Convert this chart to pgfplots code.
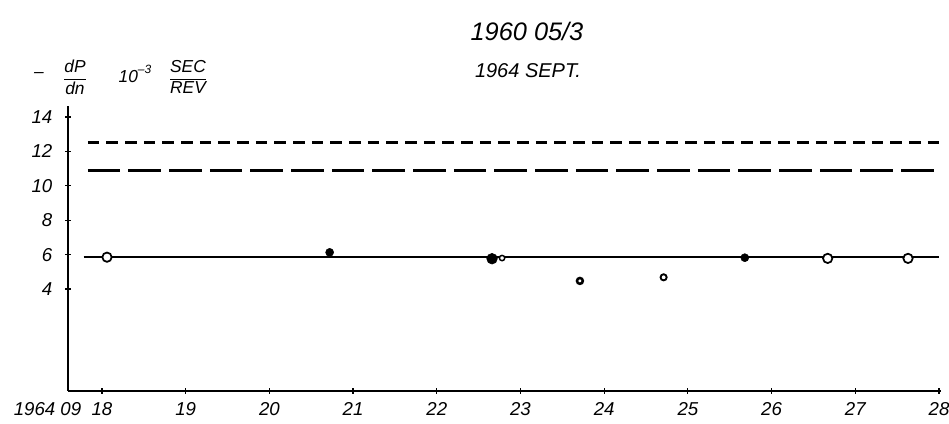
\documentclass[border=0pt]{standalone}
\usepackage{fontspec}
\setmainfont{Liberation Sans}
\usepackage{pgfplots}
\pgfplotsset{compat=1.18}

% pixel of reference -> pt, origin at the axis corner (68,391)
\newcommand{\px}[2]{({(#1-68)*0.75pt},{(391-#2)*0.75pt})}

\begin{document}
\begin{tikzpicture}
\useasboundingbox (-51pt,-24.75pt) rectangle (660.75pt,293.25pt);
\begin{axis}[
  at={(0,0)}, anchor=south west,
  scale only axis,
  width=654.75pt, height=213.75pt,
  xmin=17.594, xmax=28.024,
  ymin=-1.93, ymax=14.64,
  axis lines*=left,
  axis line style={line width=1.5pt},
  xtick={18,...,28},
  xticklabels={\llap{1964 09\ \ }18,19,20,21,22,23,24,25,26,27,28},
  ytick={4,6,...,14},
  tick align=center,
  major tick length=4.5pt,
  tick style={line width=0.9pt, black},
  /pgf/number format/assume math mode=true,
  every tick label/.append style={font=\fontsize{14}{16}\selectfont\itshape},
  yticklabel style={xshift=-6pt},
  xticklabel style={yshift=-3pt},
  clip=false,
]
% reference levels
\addplot[black, line width=1.8pt, dash pattern=on 8.8pt off 5.2pt]
  coordinates {(17.83,12.51) (28.0,12.51)};
\addplot[black, line width=1.8pt, dash pattern=on 24.5pt off 6pt]
  coordinates {(17.83,10.88) (28.0,10.88)};
% mean line
\addplot[black, line width=1.5pt]
  coordinates {(17.78,5.84) (28.0,5.84)};

% large open circles
\addplot[only marks, mark=*, mark size=3.5pt,
  mark options={fill=white, draw=black, line width=1.3pt}]
  coordinates {(18.06,5.85) (26.67,5.78) (27.63,5.78)};
% small filled
\addplot[only marks, mark=*, mark size=3pt, mark options={fill=black, draw=black}]
  coordinates {(20.72,6.13) (25.68,5.82)};
% large filled
\addplot[only marks, mark=*, mark size=4pt, mark options={fill=black, draw=black}]
  coordinates {(22.66,5.76)};
% small open
\addplot[only marks, mark=*, mark size=2pt,
  mark options={fill=white, draw=black, line width=1.1pt}]
  coordinates {(22.78,5.8)};
% low points
\addplot[only marks, mark=*, mark size=2.2pt,
  mark options={fill=white, draw=black, line width=1.9pt}]
  coordinates {(23.71,4.47)};
\addplot[only marks, mark=*, mark size=2.3pt,
  mark options={fill=white, draw=black, line width=1.4pt}]
  coordinates {(24.71,4.68)};
\end{axis}

\node[font=\fontsize{19}{22}\selectfont\itshape] at \px{527}{31} {1960 05/3};
\node[font=\fontsize{15}{18}\selectfont\itshape] at \px{528}{71} {1964 SEPT.};
\node[font=\fontsize{13}{15}\selectfont\itshape] at \px{39}{75} {–};
\node[font=\fontsize{13}{15}\selectfont\itshape] at \px{75}{77}
  {$\displaystyle\frac{\textit{dP}}{\textit{dn}}$};
\node[font=\fontsize{13}{15}\selectfont\itshape] at \px{135}{74}
  {10\raisebox{0.9ex}{\fontsize{9}{10}\selectfont\itshape –3}};
\node[font=\fontsize{13}{15}\selectfont\itshape] at \px{188}{77}
  {$\displaystyle\frac{\textit{SEC}}{\textit{REV}}$};
\end{tikzpicture}
\end{document}
